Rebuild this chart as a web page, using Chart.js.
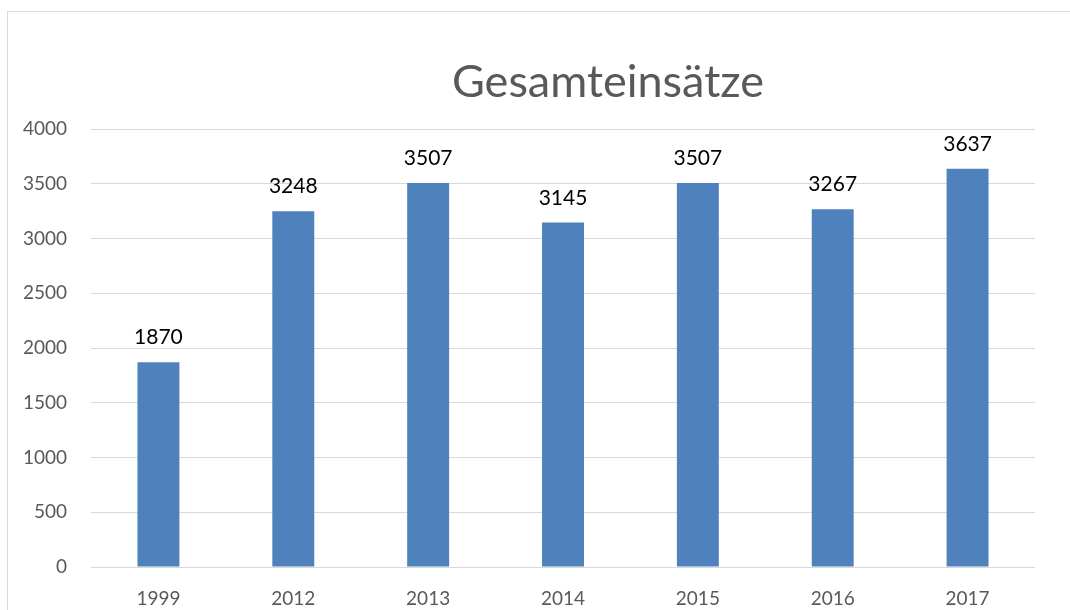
<!DOCTYPE html>
<html>
<head>
<meta charset="utf-8">
<script src="https://cdn.jsdelivr.net/npm/chart.js@4"></script>
<style>
    body { margin: 0; background: #fff; }
    #wrap { width: 1070px; height: 610px; }
</style>
</head>
<body>
<div id="wrap"><canvas id="chart" width="1070" height="610"></canvas></div>
<script>
// Chart data
const chartTitle = 'Gesamteinsätze';
const years = ['1999', '2012', '2013', '2014', '2015', '2016', '2017'];
const einsaetze = [1870, 3248, 3507, 3145, 3507, 3267, 3637];
const yTicks = [0, 500, 1000, 1500, 2000, 2500, 3000, 3500, 4000];

const FONT = "Lato, 'Open Sans', sans-serif";

// Frame around the chart (cut by the window on right and bottom)
// and the title, which sits centred on the full (wider) chart object
const framePlugin = {
    id: 'frame',
    beforeDraw(chart) {
        const ctx = chart.ctx;
        ctx.save();
        ctx.fillStyle = '#fff';
        ctx.fillRect(0, 0, chart.width, chart.height);
        ctx.strokeStyle = '#d9d9d9';
        ctx.lineWidth = 1;
        ctx.strokeRect(7.5, 11.5, 2000, 2000);

        ctx.font = '45px ' + FONT;
        ctx.fillStyle = '#595959';
        ctx.textAlign = 'center';
        ctx.textBaseline = 'alphabetic';
        ctx.fillText(chartTitle, 608, 97);
        ctx.restore();
    }
};

// Value labels above the bars
const valueLabels = {
    id: 'valueLabels',
    afterDatasetsDraw(chart) {
        const ctx = chart.ctx;
        const meta = chart.getDatasetMeta(0);
        ctx.save();
        ctx.font = '21px ' + FONT;
        ctx.fillStyle = '#000';
        ctx.textAlign = 'center';
        ctx.textBaseline = 'alphabetic';
        meta.data.forEach((bar, i) => {
            ctx.fillText(einsaetze[i], bar.x, bar.y - 18);
        });
        ctx.restore();
    }
};

new Chart(document.getElementById('chart'), {
    type: 'bar',
    data: {
        labels: years,
        datasets: [{
            label: chartTitle,
            data: einsaetze,
            backgroundColor: '#4f81bd',
            borderWidth: 0,
            categoryPercentage: 1,
            barPercentage: 0.311
        }]
    },
    options: {
        responsive: false,
        animation: false,
        layout: {
            padding: { left: 0, right: 35, top: 129, bottom: 0 }
        },
        plugins: {
            legend: { display: false },
            tooltip: { enabled: false },
            title: { display: false }
        },
        scales: {
            x: {
                grid: { display: false },
                border: { display: false },
                ticks: {
                    color: '#595959',
                    font: { family: FONT, size: 19 },
                    padding: 12
                },
                afterFit(scale) { scale.height = 43; }
            },
            y: {
                min: 0,
                max: 4000,
                afterBuildTicks(scale) {
                    scale.ticks = yTicks.map(v => ({ value: v }));
                },
                grid: { color: '#d9d9d9', lineWidth: 1, drawTicks: false },
                border: { display: false },
                ticks: {
                    color: '#595959',
                    font: { family: FONT, size: 19 },
                    padding: 24,
                    callback: (value) => String(value)
                },
                afterFit(scale) { scale.width = 91; }
            }
        }
    },
    plugins: [framePlugin, valueLabels]
});
</script>
</body>
</html>
